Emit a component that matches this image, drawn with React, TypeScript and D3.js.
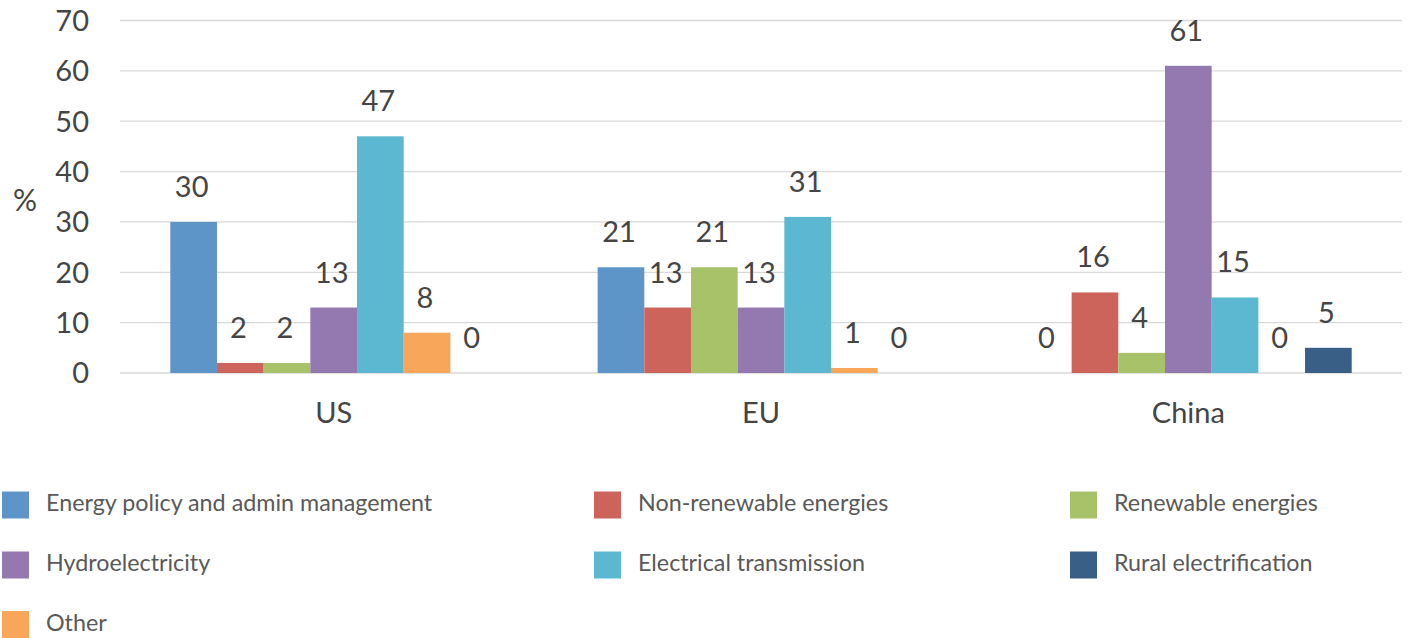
import React from 'react';
import * as d3 from 'd3';

// regions on the x axis
const regions = ['US', 'EU', 'China'];

// share of each sector, one value per region (US, EU, China)
const energyPolicy = [30, 21, 0];
const nonRenewable = [2, 13, 16];
const renewable = [2, 21, 4];
const hydro = [13, 13, 61];
const transmission = [47, 31, 15];
const other = [8, 1, 0];
const rural = [0, 0, 5];

const yTicks = [0, 10, 20, 30, 40, 50, 60, 70];

// bar order inside each group
const series = [
    { key: 'energy', name: 'Energy policy and admin management', values: energyPolicy, color: '#5e95c9' },
    { key: 'nonren', name: 'Non-renewable energies', values: nonRenewable, color: '#cc645c' },
    { key: 'ren', name: 'Renewable energies', values: renewable, color: '#a8c26a' },
    { key: 'hydro', name: 'Hydroelectricity', values: hydro, color: '#9379b0' },
    { key: 'trans', name: 'Electrical transmission', values: transmission, color: '#5bb8d0' },
    { key: 'other', name: 'Other', values: other, color: '#f7a65a' },
    { key: 'rural', name: 'Rural electrification', values: rural, color: '#3a5f86' },
];

// legend reads row by row, three per row
const legendOrder = ['energy', 'nonren', 'ren', 'hydro', 'trans', 'rural', 'other'];

const W = 1412, H = 638;
const axisFont = 'Lato, "DejaVu Sans", sans-serif';
const legendFont = 'Lato, "Noto Sans", sans-serif';

export default function App() {
    const x = d3.scaleBand<string>()
        .domain(regions)
        .range([120, 1402])
        .paddingInner(0.2354)
        .paddingOuter(0.1177);

    const xs = d3.scaleBand<string>()
        .domain(series.map(s => s.key))
        .range([0, x.bandwidth()]);

    const y = d3.scaleLinear().domain([0, 70]).range([373, 20.5]);

    const legendCols = [2, 594, 1070];
    const legendRows = [505, 565, 624.5];

    return (
        <svg width={W} height={H} style={{ position: 'absolute', left: 0, top: 0, background: '#fff' }}>
            {/* gridlines */}
            <g>
                {yTicks.map(t => (
                    <line key={t} x1={120} x2={1402} y1={y(t)} y2={y(t)} stroke="#d9d9d9" strokeWidth={1.3} />
                ))}
            </g>
            {/* y tick labels */}
            <g fontFamily={axisFont} fontSize={29} fill="#454545" textAnchor="end">
                {yTicks.map(t => (
                    <text key={t} x={89} y={y(t)} dy="0.36em">{t}</text>
                ))}
            </g>
            <text x={25} y={200} dy="0.36em" textAnchor="middle" fontFamily={axisFont} fontSize={30} fill="#454545">%</text>

            {/* bars */}
            {regions.map((r, i) => (
                <g key={r} transform={`translate(${x(r)},0)`}>
                    {series.map(s => (
                        <rect key={s.key}
                            x={xs(s.key)}
                            y={y(s.values[i])}
                            width={xs.bandwidth()}
                            height={y(0) - y(s.values[i])}
                            fill={s.color} />
                    ))}
                    {series.map(s => (
                        <text key={s.key}
                            x={(xs(s.key) as number) + xs.bandwidth() / 2 - 2}
                            y={y(s.values[i]) - 25}
                            textAnchor="middle"
                            fontFamily={axisFont} fontSize={29} fill="#454545">
                            {s.values[i]}
                        </text>
                    ))}
                </g>
            ))}

            {/* category labels */}
            <g fontFamily={axisFont} fontSize={29} fill="#454545" textAnchor="middle">
                {regions.map(r => (
                    <text key={r} x={(x(r) as number) + x.bandwidth() / 2} y={423}>{r}</text>
                ))}
            </g>

            {/* legend */}
            <g fontFamily={legendFont} fontSize={23.3} fill="#595959">
                {legendOrder.map((k, i) => {
                    const s = series.find(d => d.key === k)!;
                    const cx = legendCols[i % 3];
                    const cy = legendRows[Math.floor(i / 3)];
                    return (
                        <g key={k}>
                            <rect x={cx} y={cy - 13.5} width={27} height={27} fill={s.color} />
                            <text x={cx + 44} y={cy - 2} dy="0.35em">{s.name}</text>
                        </g>
                    );
                })}
            </g>
        </svg>
    );
}
